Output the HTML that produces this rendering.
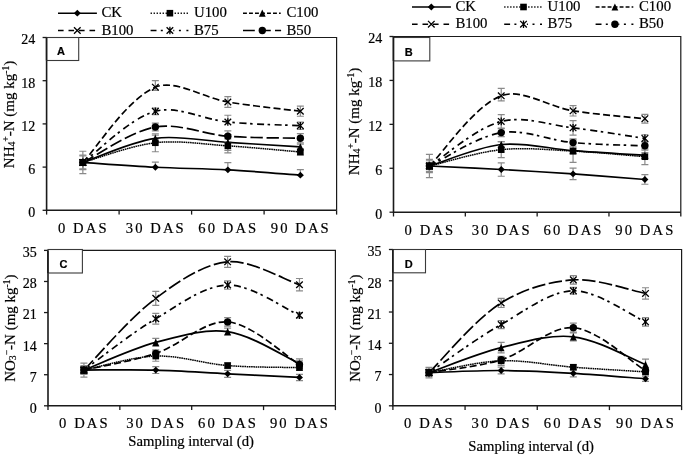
<!DOCTYPE html>
<html><head><meta charset="utf-8"><style>
html,body{margin:0;padding:0;background:#fff;width:685px;height:456px;overflow:hidden}
svg{display:block;will-change:transform}
text{fill:#000;stroke:#000;stroke-width:0.2px}
</style></head><body>
<svg width="685" height="456" viewBox="0 0 685 456">
<rect width="685" height="456" fill="#fff"/>
<g><path d="M46.6,37.5 H336.6 V210.3" stroke="#1a1a1a" stroke-width="1.2" fill="none"/>
<path d="M46.6,37.5 V210.3 H336.6" stroke="#1a1a1a" stroke-width="1.6" fill="none"/>
<path d="M42.6,210.3 H46.6" stroke="#1a1a1a" stroke-width="1.3"/>
<text x="35.3" y="217.2" text-anchor="end" font-size="14" font-family='"Liberation Serif", serif'>0</text>
<path d="M42.6,167.1 H46.6" stroke="#1a1a1a" stroke-width="1.3"/>
<text x="35.3" y="174" text-anchor="end" font-size="14" font-family='"Liberation Serif", serif'>6</text>
<path d="M42.6,123.9 H46.6" stroke="#1a1a1a" stroke-width="1.3"/>
<text x="35.3" y="130.8" text-anchor="end" font-size="14" font-family='"Liberation Serif", serif'>12</text>
<path d="M42.6,80.7 H46.6" stroke="#1a1a1a" stroke-width="1.3"/>
<text x="35.3" y="87.6" text-anchor="end" font-size="14" font-family='"Liberation Serif", serif'>18</text>
<path d="M42.6,37.5 H46.6" stroke="#1a1a1a" stroke-width="1.3"/>
<text x="35.3" y="44.4" text-anchor="end" font-size="14" font-family='"Liberation Serif", serif'>24</text>
<path d="M46.6,210.3 V214.6" stroke="#1a1a1a" stroke-width="1.3"/>
<path d="M119.1,210.3 V214.6" stroke="#1a1a1a" stroke-width="1.3"/>
<path d="M191.6,210.3 V214.6" stroke="#1a1a1a" stroke-width="1.3"/>
<path d="M264.1,210.3 V214.6" stroke="#1a1a1a" stroke-width="1.3"/>
<path d="M336.6,210.3 V214.6" stroke="#1a1a1a" stroke-width="1.3"/>
<text x="83.3" y="232.8" text-anchor="middle" font-size="14.6" letter-spacing="2.1" font-family='"Liberation Serif", serif'>0 DAS</text>
<text x="155.8" y="232.8" text-anchor="middle" font-size="14.6" letter-spacing="2.1" font-family='"Liberation Serif", serif'>30 DAS</text>
<text x="228.3" y="232.8" text-anchor="middle" font-size="14.6" letter-spacing="2.1" font-family='"Liberation Serif", serif'>60 DAS</text>
<text x="300.8" y="232.8" text-anchor="middle" font-size="14.6" letter-spacing="2.1" font-family='"Liberation Serif", serif'>90 DAS</text>
<path d="M82.85,162.42 C97.35,163.38 131.16,166.01 155.35,167.24 C179.5,168.48 203.71,168.52 227.85,169.84 C252.04,171.16 285.85,174.1 300.35,175.16" stroke="#000" stroke-width="1.7" fill="none"/>
<path d="M82.85,162.42 C97.35,158.49 130.77,145.57 155.35,142.76 C179.1,140.05 203.72,144.33 227.85,145.86 C252.05,147.4 285.85,150.76 300.35,151.98" stroke="#000" stroke-width="1.5" fill="none" stroke-dasharray="1.6 0.6"/>
<path d="M82.85,162.42 C97.35,157.6 130.57,141.72 155.35,138.3 C178.9,135.05 203.69,140.96 227.85,142.4 C252.02,143.84 285.85,146.03 300.35,146.94" stroke="#000" stroke-width="1.7" fill="none"/>
<path d="M82.85,162.42 C97.35,147.37 127.06,98.97 155.35,87.18 C175.39,78.83 203.53,97.98 227.85,102.01 C251.87,105.99 285.85,109.38 300.35,111.23" stroke="#000" stroke-width="1.7" fill="none" stroke-dasharray="7 3.3"/>
<path d="M82.85,162.42 C97.35,152.2 128.88,118.67 155.35,111.3 C177.22,105.21 203.57,119.62 227.85,122.03 C251.9,124.42 285.85,124.97 300.35,125.7" stroke="#000" stroke-width="1.7" fill="none" stroke-dasharray="7 3.5 2.5 4.5"/>
<path d="M82.85,162.42 C97.35,155.34 129.99,131.58 155.35,127 C178.32,122.84 203.59,134.32 227.85,136.21 C251.92,138.09 285.85,137.88 300.35,138.3" stroke="#000" stroke-width="1.7" fill="none" stroke-dasharray="12.3 3.8"/>
<path d="M82.85,159.54 V165.3 M79.35,159.54 H86.35 M79.35,165.3 H86.35" stroke="#8a8a8a" stroke-width="1.2" fill="none"/>
<path d="M155.35,162.06 V167.24 M151.85,162.06 H158.85" stroke="#8a8a8a" stroke-width="1.2" fill="none"/>
<path d="M227.85,162.64 V169.84 M224.35,162.64 H231.35" stroke="#8a8a8a" stroke-width="1.2" fill="none"/>
<path d="M300.35,169.69 V175.16 M296.85,169.69 H303.85" stroke="#8a8a8a" stroke-width="1.2" fill="none"/>
<path d="M82.85,155.94 V168.9 M79.35,155.94 H86.35 M79.35,168.9 H86.35" stroke="#8a8a8a" stroke-width="1.2" fill="none"/>
<path d="M155.35,133.76 V151.76 M151.85,133.76 H158.85 M151.85,151.76 H158.85" stroke="#8a8a8a" stroke-width="1.2" fill="none"/>
<path d="M227.85,138.8 V152.92 M224.35,138.8 H231.35 M224.35,152.92 H231.35" stroke="#8a8a8a" stroke-width="1.2" fill="none"/>
<path d="M300.35,148.74 V155.22 M296.85,148.74 H303.85 M296.85,155.22 H303.85" stroke="#8a8a8a" stroke-width="1.2" fill="none"/>
<path d="M82.85,155.22 V169.62 M79.35,155.22 H86.35 M79.35,169.62 H86.35" stroke="#8a8a8a" stroke-width="1.2" fill="none"/>
<path d="M155.35,135.06 V141.54 M151.85,135.06 H158.85 M151.85,141.54 H158.85" stroke="#8a8a8a" stroke-width="1.2" fill="none"/>
<path d="M227.85,134.48 V150.32 M224.35,134.48 H231.35 M224.35,150.32 H231.35" stroke="#8a8a8a" stroke-width="1.2" fill="none"/>
<path d="M300.35,144.06 V149.82 M296.85,144.06 H303.85 M296.85,149.82 H303.85" stroke="#8a8a8a" stroke-width="1.2" fill="none"/>
<path d="M82.85,151.26 V173.58 M79.35,151.26 H86.35 M79.35,173.58 H86.35" stroke="#8a8a8a" stroke-width="1.2" fill="none"/>
<path d="M155.35,80.56 V90.42 M151.85,80.56 H158.85 M151.85,90.42 H158.85" stroke="#8a8a8a" stroke-width="1.2" fill="none"/>
<path d="M227.85,96.61 V107.41 M224.35,96.61 H231.35 M224.35,107.41 H231.35" stroke="#8a8a8a" stroke-width="1.2" fill="none"/>
<path d="M300.35,106.19 V116.27 M296.85,106.19 H303.85 M296.85,116.27 H303.85" stroke="#8a8a8a" stroke-width="1.2" fill="none"/>
<path d="M82.85,159.54 V165.3 M79.35,159.54 H86.35 M79.35,165.3 H86.35" stroke="#8a8a8a" stroke-width="1.2" fill="none"/>
<path d="M155.35,108.06 V114.54 M151.85,108.06 H158.85 M151.85,114.54 H158.85" stroke="#8a8a8a" stroke-width="1.2" fill="none"/>
<path d="M227.85,115.26 V122.03 M224.35,115.26 H231.35" stroke="#8a8a8a" stroke-width="1.2" fill="none"/>
<path d="M300.35,122.1 V129.3 M296.85,122.1 H303.85 M296.85,129.3 H303.85" stroke="#8a8a8a" stroke-width="1.2" fill="none"/>
<path d="M82.85,159.54 V165.3 M79.35,159.54 H86.35 M79.35,165.3 H86.35" stroke="#8a8a8a" stroke-width="1.2" fill="none"/>
<path d="M155.35,123.04 V130.96 M151.85,123.04 H158.85 M151.85,130.96 H158.85" stroke="#8a8a8a" stroke-width="1.2" fill="none"/>
<path d="M227.85,130.81 V141.61 M224.35,130.81 H231.35 M224.35,141.61 H231.35" stroke="#8a8a8a" stroke-width="1.2" fill="none"/>
<path d="M300.35,133.69 V142.91 M296.85,133.69 H303.85 M296.85,142.91 H303.85" stroke="#8a8a8a" stroke-width="1.2" fill="none"/>
<path d="M82.85,159.02 L86.35,162.42 L82.85,165.82 L79.35,162.42 Z" fill="#000"/>
<path d="M155.35,163.84 L158.85,167.24 L155.35,170.64 L151.85,167.24 Z" fill="#000"/>
<path d="M227.85,166.44 L231.35,169.84 L227.85,173.24 L224.35,169.84 Z" fill="#000"/>
<path d="M300.35,171.76 L303.85,175.16 L300.35,178.56 L296.85,175.16 Z" fill="#000"/>
<rect x="79.55" y="159.12" width="6.6" height="6.6" fill="#000"/>
<rect x="152.05" y="139.46" width="6.6" height="6.6" fill="#000"/>
<rect x="224.55" y="142.56" width="6.6" height="6.6" fill="#000"/>
<rect x="297.05" y="148.68" width="6.6" height="6.6" fill="#000"/>
<path d="M82.85,158.82 L86.25,166.02 L79.45,166.02 Z" fill="#000"/>
<path d="M155.35,134.7 L158.75,141.9 L151.95,141.9 Z" fill="#000"/>
<path d="M227.85,138.8 L231.25,146 L224.45,146 Z" fill="#000"/>
<path d="M300.35,143.34 L303.75,150.54 L296.95,150.54 Z" fill="#000"/>
<path d="M79.55,159.12 L86.15,165.72 M79.55,165.72 L86.15,159.12" stroke="#000" stroke-width="1.3" fill="none"/>
<path d="M152.05,83.88 L158.65,90.48 M152.05,90.48 L158.65,83.88" stroke="#000" stroke-width="1.3" fill="none"/>
<path d="M224.55,98.71 L231.15,105.31 M224.55,105.31 L231.15,98.71" stroke="#000" stroke-width="1.3" fill="none"/>
<path d="M297.05,107.93 L303.65,114.53 M297.05,114.53 L303.65,107.93" stroke="#000" stroke-width="1.3" fill="none"/>
<path d="M79.55,159.12 L86.15,165.72 M79.55,165.72 L86.15,159.12 M82.85,158.62 L82.85,166.22" stroke="#000" stroke-width="1.3" fill="none"/>
<path d="M152.05,108 L158.65,114.6 M152.05,114.6 L158.65,108 M155.35,107.5 L155.35,115.1" stroke="#000" stroke-width="1.3" fill="none"/>
<path d="M224.55,118.73 L231.15,125.33 M224.55,125.33 L231.15,118.73 M227.85,118.23 L227.85,125.83" stroke="#000" stroke-width="1.3" fill="none"/>
<path d="M297.05,122.4 L303.65,129 M297.05,129 L303.65,122.4 M300.35,121.9 L300.35,129.5" stroke="#000" stroke-width="1.3" fill="none"/>
<circle cx="82.85" cy="162.42" r="3.7" fill="#000"/>
<circle cx="155.35" cy="127" r="3.7" fill="#000"/>
<circle cx="227.85" cy="136.21" r="3.7" fill="#000"/>
<circle cx="300.35" cy="138.3" r="3.7" fill="#000"/>
<rect x="46.6" y="37.5" width="32.1" height="23" fill="#fff" stroke="#3a3a3a" stroke-width="1.1"/>
<path d="M46.6,37.5 V60.5" stroke="#1a1a1a" stroke-width="1.6"/>
<text x="60.9" y="55.4" text-anchor="middle" font-size="11" font-weight="bold" font-family='"Liberation Sans", sans-serif'>A</text>
<text transform="translate(13.6,168.2) rotate(-90)" font-size="15" font-family='"Liberation Serif", serif'>NH<tspan font-size="9.6" dy="1.5">4</tspan><tspan font-size="9.6" dy="-6.5">+</tspan><tspan dy="5">-N (mg kg</tspan><tspan font-size="9.6" dy="-5">-1</tspan><tspan dy="5">)</tspan></text>
<path d="M58,13.2 H96.9" stroke="#000" stroke-width="1.5" fill="none"/>
<path d="M77.3,9.8 L80.8,13.2 L77.3,16.6 L73.8,13.2 Z" fill="#000"/>
<text x="101.4" y="17" font-size="14.8" font-family='"Liberation Serif", serif'>CK</text>
<path d="M150.6,13.2 H188" stroke="#000" stroke-width="1.5" fill="none" stroke-dasharray="1.3 1.7"/>
<rect x="166.6" y="9.9" width="6.6" height="6.6" fill="#000"/>
<text x="194" y="17" font-size="14.8" font-family='"Liberation Serif", serif'>U100</text>
<path d="M243,13.2 H280.7" stroke="#000" stroke-width="1.5" fill="none" stroke-dasharray="3.9 2.1"/>
<path d="M262.3,9.6 L265.7,16.8 L258.9,16.8 Z" fill="#000"/>
<text x="286.4" y="17" font-size="14.8" font-family='"Liberation Serif", serif'>C100</text>
<path d="M58,30.5 H95.1" stroke="#000" stroke-width="1.5" fill="none" stroke-dasharray="5.6 4.9"/>
<path d="M74,27.2 L80.6,33.8 M74,33.8 L80.6,27.2" stroke="#000" stroke-width="1.3" fill="none"/>
<text x="101.4" y="34.8" font-size="14.8" font-family='"Liberation Serif", serif'>B100</text>
<path d="M150.6,30.5 H156.5 M160.8,30.5 H162.8 M173.3,30.5 H174.3 M178.9,30.5 H180.9 M186.4,30.5 H188.4" stroke="#000" stroke-width="1.5" fill="none"/>
<path d="M166.6,27.2 L173.2,33.8 M166.6,33.8 L173.2,27.2 M169.9,26.7 L169.9,34.3" stroke="#000" stroke-width="1.3" fill="none"/>
<text x="194" y="34.8" font-size="14.8" font-family='"Liberation Serif", serif'>B75</text>
<path d="M243,30.5 H281.1" stroke="#000" stroke-width="1.5" fill="none" stroke-dasharray="11.8 4.2"/>
<circle cx="262.3" cy="30.5" r="3.7" fill="#000"/>
<text x="286.4" y="34.8" font-size="14.8" font-family='"Liberation Serif", serif'>B50</text></g>
<g><path d="M393.5,36.5 H680.8 V212.2" stroke="#1a1a1a" stroke-width="1.2" fill="none"/>
<path d="M393.5,36.5 V212.2 H680.8" stroke="#1a1a1a" stroke-width="1.6" fill="none"/>
<path d="M389.5,212.2 H393.5" stroke="#1a1a1a" stroke-width="1.3"/>
<text x="382.2" y="219.1" text-anchor="end" font-size="14" font-family='"Liberation Serif", serif'>0</text>
<path d="M389.5,168.27 H393.5" stroke="#1a1a1a" stroke-width="1.3"/>
<text x="382.2" y="175.17" text-anchor="end" font-size="14" font-family='"Liberation Serif", serif'>6</text>
<path d="M389.5,124.35 H393.5" stroke="#1a1a1a" stroke-width="1.3"/>
<text x="382.2" y="131.25" text-anchor="end" font-size="14" font-family='"Liberation Serif", serif'>12</text>
<path d="M389.5,80.43 H393.5" stroke="#1a1a1a" stroke-width="1.3"/>
<text x="382.2" y="87.33" text-anchor="end" font-size="14" font-family='"Liberation Serif", serif'>18</text>
<path d="M389.5,36.5 H393.5" stroke="#1a1a1a" stroke-width="1.3"/>
<text x="382.2" y="43.4" text-anchor="end" font-size="14" font-family='"Liberation Serif", serif'>24</text>
<path d="M393.5,212.2 V216.5" stroke="#1a1a1a" stroke-width="1.3"/>
<path d="M465.32,212.2 V216.5" stroke="#1a1a1a" stroke-width="1.3"/>
<path d="M537.15,212.2 V216.5" stroke="#1a1a1a" stroke-width="1.3"/>
<path d="M608.97,212.2 V216.5" stroke="#1a1a1a" stroke-width="1.3"/>
<path d="M680.8,212.2 V216.5" stroke="#1a1a1a" stroke-width="1.3"/>
<text x="429.86" y="234.7" text-anchor="middle" font-size="14.6" letter-spacing="2.1" font-family='"Liberation Serif", serif'>0 DAS</text>
<text x="501.69" y="234.7" text-anchor="middle" font-size="14.6" letter-spacing="2.1" font-family='"Liberation Serif", serif'>30 DAS</text>
<text x="573.51" y="234.7" text-anchor="middle" font-size="14.6" letter-spacing="2.1" font-family='"Liberation Serif", serif'>60 DAS</text>
<text x="645.34" y="234.7" text-anchor="middle" font-size="14.6" letter-spacing="2.1" font-family='"Liberation Serif", serif'>90 DAS</text>
<path d="M429.41,166.01 C443.78,166.71 477.3,168.2 501.24,169.52 C525.19,170.84 549.13,172.25 573.06,173.91 C597.02,175.57 630.52,178.36 644.89,179.48" stroke="#000" stroke-width="1.7" fill="none"/>
<path d="M429.41,166.01 C443.78,162.74 477,152.2 501.24,149.68 C524.88,147.22 549.16,149.9 573.06,151.07 C597.04,152.24 630.52,155.58 644.89,156.71" stroke="#000" stroke-width="1.5" fill="none" stroke-dasharray="1.6 0.6"/>
<path d="M429.41,166.01 C443.78,161.7 476.83,147.08 501.24,144.48 C524.71,141.98 549.1,148.87 573.06,150.7 C596.99,152.53 630.52,154.51 644.89,155.46" stroke="#000" stroke-width="1.7" fill="none"/>
<path d="M429.41,166.01 C443.78,151.96 473.57,106.43 501.24,95.8 C521.45,88.03 548.94,106.96 573.06,110.81 C596.82,114.6 630.52,117.13 644.89,118.71" stroke="#000" stroke-width="1.7" fill="none" stroke-dasharray="7 3.3"/>
<path d="M429.41,166.01 C443.78,157.09 475.4,128.28 501.24,121.42 C523.28,115.57 549.2,125.04 573.06,127.86 C597.08,130.7 630.52,136.3 644.89,138.41" stroke="#000" stroke-width="1.7" fill="none" stroke-dasharray="7 3.5 2.5 4.5"/>
<path d="M429.41,166.01 C443.78,159.33 476.24,136.7 501.24,132.62 C524.12,128.89 549.02,140.37 573.06,142.58 C596.9,144.77 630.52,145.16 644.89,145.8" stroke="#000" stroke-width="1.7" fill="none" stroke-dasharray="7 3.5 2.5 4.5"/>
<path d="M429.41,163.08 V168.93 M425.91,163.08 H432.91 M425.91,168.93 H432.91" stroke="#8a8a8a" stroke-width="1.2" fill="none"/>
<path d="M501.24,162.78 V176.25 M497.74,162.78 H504.74 M497.74,176.25 H504.74" stroke="#8a8a8a" stroke-width="1.2" fill="none"/>
<path d="M573.06,168.2 V179.62 M569.56,168.2 H576.56 M569.56,179.62 H576.56" stroke="#8a8a8a" stroke-width="1.2" fill="none"/>
<path d="M644.89,174.72 V184.23 M641.39,174.72 H648.39 M641.39,184.23 H648.39" stroke="#8a8a8a" stroke-width="1.2" fill="none"/>
<path d="M429.41,159.42 V172.59 M425.91,159.42 H432.91 M425.91,172.59 H432.91" stroke="#8a8a8a" stroke-width="1.2" fill="none"/>
<path d="M501.24,141.77 V157.59 M497.74,141.77 H504.74 M497.74,157.59 H504.74" stroke="#8a8a8a" stroke-width="1.2" fill="none"/>
<path d="M573.06,139.8 V162.35 M569.56,139.8 H576.56 M569.56,162.35 H576.56" stroke="#8a8a8a" stroke-width="1.2" fill="none"/>
<path d="M644.89,148.8 V164.61 M641.39,148.8 H648.39 M641.39,164.61 H648.39" stroke="#8a8a8a" stroke-width="1.2" fill="none"/>
<path d="M429.41,160.73 V171.28 M425.91,160.73 H432.91 M425.91,171.28 H432.91" stroke="#8a8a8a" stroke-width="1.2" fill="none"/>
<path d="M501.24,141.55 V147.41 M497.74,141.55 H504.74 M497.74,147.41 H504.74" stroke="#8a8a8a" stroke-width="1.2" fill="none"/>
<path d="M573.06,147.78 V153.63 M569.56,147.78 H576.56 M569.56,153.63 H576.56" stroke="#8a8a8a" stroke-width="1.2" fill="none"/>
<path d="M644.89,152.54 V158.39 M641.39,152.54 H648.39 M641.39,158.39 H648.39" stroke="#8a8a8a" stroke-width="1.2" fill="none"/>
<path d="M429.41,154.44 V177.57 M425.91,154.44 H432.91 M425.91,177.57 H432.91" stroke="#8a8a8a" stroke-width="1.2" fill="none"/>
<path d="M501.24,88.33 V100.78 M497.74,88.33 H504.74 M497.74,100.78 H504.74" stroke="#8a8a8a" stroke-width="1.2" fill="none"/>
<path d="M573.06,105.61 V116 M569.56,105.61 H576.56 M569.56,116 H576.56" stroke="#8a8a8a" stroke-width="1.2" fill="none"/>
<path d="M644.89,114.32 V123.11 M641.39,114.32 H648.39 M641.39,123.11 H648.39" stroke="#8a8a8a" stroke-width="1.2" fill="none"/>
<path d="M429.41,163.08 V168.93 M425.91,163.08 H432.91 M425.91,168.93 H432.91" stroke="#8a8a8a" stroke-width="1.2" fill="none"/>
<path d="M501.24,114.69 V128.16 M497.74,114.69 H504.74 M497.74,128.16 H504.74" stroke="#8a8a8a" stroke-width="1.2" fill="none"/>
<path d="M573.06,120.69 V135.04 M569.56,120.69 H576.56 M569.56,135.04 H576.56" stroke="#8a8a8a" stroke-width="1.2" fill="none"/>
<path d="M644.89,134.75 V142.07 M641.39,134.75 H648.39 M641.39,142.07 H648.39" stroke="#8a8a8a" stroke-width="1.2" fill="none"/>
<path d="M429.41,163.08 V168.93 M425.91,163.08 H432.91 M425.91,168.93 H432.91" stroke="#8a8a8a" stroke-width="1.2" fill="none"/>
<path d="M501.24,128.6 V136.65 M497.74,128.6 H504.74 M497.74,136.65 H504.74" stroke="#8a8a8a" stroke-width="1.2" fill="none"/>
<path d="M573.06,138.92 V146.24 M569.56,138.92 H576.56 M569.56,146.24 H576.56" stroke="#8a8a8a" stroke-width="1.2" fill="none"/>
<path d="M644.89,141.48 V150.12 M641.39,141.48 H648.39 M641.39,150.12 H648.39" stroke="#8a8a8a" stroke-width="1.2" fill="none"/>
<path d="M429.41,162.61 L432.91,166.01 L429.41,169.41 L425.91,166.01 Z" fill="#000"/>
<path d="M501.24,166.12 L504.74,169.52 L501.24,172.92 L497.74,169.52 Z" fill="#000"/>
<path d="M573.06,170.51 L576.56,173.91 L573.06,177.31 L569.56,173.91 Z" fill="#000"/>
<path d="M644.89,176.08 L648.39,179.48 L644.89,182.88 L641.39,179.48 Z" fill="#000"/>
<rect x="426.11" y="162.71" width="6.6" height="6.6" fill="#000"/>
<rect x="497.94" y="146.38" width="6.6" height="6.6" fill="#000"/>
<rect x="569.76" y="147.77" width="6.6" height="6.6" fill="#000"/>
<rect x="641.59" y="153.41" width="6.6" height="6.6" fill="#000"/>
<path d="M429.41,162.41 L432.81,169.61 L426.01,169.61 Z" fill="#000"/>
<path d="M501.24,140.88 L504.64,148.08 L497.84,148.08 Z" fill="#000"/>
<path d="M573.06,147.1 L576.46,154.3 L569.66,154.3 Z" fill="#000"/>
<path d="M644.89,151.86 L648.29,159.06 L641.49,159.06 Z" fill="#000"/>
<path d="M426.11,162.71 L432.71,169.31 M426.11,169.31 L432.71,162.71" stroke="#000" stroke-width="1.3" fill="none"/>
<path d="M497.94,92.5 L504.54,99.1 M497.94,99.1 L504.54,92.5" stroke="#000" stroke-width="1.3" fill="none"/>
<path d="M569.76,107.51 L576.36,114.11 M569.76,114.11 L576.36,107.51" stroke="#000" stroke-width="1.3" fill="none"/>
<path d="M641.59,115.41 L648.19,122.01 M641.59,122.01 L648.19,115.41" stroke="#000" stroke-width="1.3" fill="none"/>
<path d="M426.11,162.71 L432.71,169.31 M426.11,169.31 L432.71,162.71 M429.41,162.21 L429.41,169.81" stroke="#000" stroke-width="1.3" fill="none"/>
<path d="M497.94,118.12 L504.54,124.72 M497.94,124.72 L504.54,118.12 M501.24,117.62 L501.24,125.22" stroke="#000" stroke-width="1.3" fill="none"/>
<path d="M569.76,124.56 L576.36,131.16 M569.76,131.16 L576.36,124.56 M573.06,124.06 L573.06,131.66" stroke="#000" stroke-width="1.3" fill="none"/>
<path d="M641.59,135.11 L648.19,141.71 M641.59,141.71 L648.19,135.11 M644.89,134.61 L644.89,142.21" stroke="#000" stroke-width="1.3" fill="none"/>
<circle cx="429.41" cy="166.01" r="3.7" fill="#000"/>
<circle cx="501.24" cy="132.62" r="3.7" fill="#000"/>
<circle cx="573.06" cy="142.58" r="3.7" fill="#000"/>
<circle cx="644.89" cy="145.8" r="3.7" fill="#000"/>
<rect x="393.5" y="37.5" width="36.3" height="23.4" fill="#fff" stroke="#3a3a3a" stroke-width="1.1"/>
<path d="M393.5,36.5 V60.9" stroke="#1a1a1a" stroke-width="1.6"/>
<text x="408.8" y="55.7" text-anchor="middle" font-size="11" font-weight="bold" font-family='"Liberation Sans", sans-serif'>B</text>
<text transform="translate(358.8,175.2) rotate(-90)" font-size="15" font-family='"Liberation Serif", serif'>NH<tspan font-size="9.6" dy="1.5">4</tspan><tspan font-size="9.6" dy="-6.5">+</tspan><tspan dy="5">-N (mg kg</tspan><tspan font-size="9.6" dy="-5">-1</tspan><tspan dy="5">)</tspan></text>
<path d="M412,7 H450.9" stroke="#000" stroke-width="1.5" fill="none"/>
<path d="M431.3,3.6 L434.8,7 L431.3,10.4 L427.8,7 Z" fill="#000"/>
<text x="455.4" y="10.8" font-size="14.8" font-family='"Liberation Serif", serif'>CK</text>
<path d="M504.2,7 H541.6" stroke="#000" stroke-width="1.5" fill="none" stroke-dasharray="1.3 1.7"/>
<rect x="520.2" y="3.7" width="6.6" height="6.6" fill="#000"/>
<text x="547.6" y="10.8" font-size="14.8" font-family='"Liberation Serif", serif'>U100</text>
<path d="M595.6,7 H633.3" stroke="#000" stroke-width="1.5" fill="none" stroke-dasharray="3.9 2.1"/>
<path d="M614.9,3.4 L618.3,10.6 L611.5,10.6 Z" fill="#000"/>
<text x="639" y="10.8" font-size="14.8" font-family='"Liberation Serif", serif'>C100</text>
<path d="M412,24.2 H449.1" stroke="#000" stroke-width="1.5" fill="none" stroke-dasharray="5.6 4.9"/>
<path d="M428,20.9 L434.6,27.5 M428,27.5 L434.6,20.9" stroke="#000" stroke-width="1.3" fill="none"/>
<text x="455.4" y="28" font-size="14.8" font-family='"Liberation Serif", serif'>B100</text>
<path d="M504.2,24.2 H510.1 M514.4,24.2 H516.4 M526.9,24.2 H527.9 M532.5,24.2 H534.5 M540,24.2 H542" stroke="#000" stroke-width="1.5" fill="none"/>
<path d="M520.2,20.9 L526.8,27.5 M520.2,27.5 L526.8,20.9 M523.5,20.4 L523.5,28" stroke="#000" stroke-width="1.3" fill="none"/>
<text x="547.6" y="28" font-size="14.8" font-family='"Liberation Serif", serif'>B75</text>
<path d="M595.6,24.2 H601.5 M605.8,24.2 H607.8 M618.3,24.2 H619.3 M623.9,24.2 H625.9 M631.4,24.2 H633.4" stroke="#000" stroke-width="1.5" fill="none"/>
<circle cx="614.9" cy="24.2" r="3.7" fill="#000"/>
<text x="639" y="28" font-size="14.8" font-family='"Liberation Serif", serif'>B50</text></g>
<g><path d="M48,250.4 H335.4 V405.8" stroke="#1a1a1a" stroke-width="1.2" fill="none"/>
<path d="M48,250.4 V405.8 H335.4" stroke="#1a1a1a" stroke-width="1.6" fill="none"/>
<path d="M44,405.8 H48" stroke="#1a1a1a" stroke-width="1.3"/>
<text x="36.7" y="412.7" text-anchor="end" font-size="14" font-family='"Liberation Serif", serif'>0</text>
<path d="M44,374.72 H48" stroke="#1a1a1a" stroke-width="1.3"/>
<text x="36.7" y="381.62" text-anchor="end" font-size="14" font-family='"Liberation Serif", serif'>7</text>
<path d="M44,343.64 H48" stroke="#1a1a1a" stroke-width="1.3"/>
<text x="36.7" y="350.54" text-anchor="end" font-size="14" font-family='"Liberation Serif", serif'>14</text>
<path d="M44,312.56 H48" stroke="#1a1a1a" stroke-width="1.3"/>
<text x="36.7" y="319.46" text-anchor="end" font-size="14" font-family='"Liberation Serif", serif'>21</text>
<path d="M44,281.48 H48" stroke="#1a1a1a" stroke-width="1.3"/>
<text x="36.7" y="288.38" text-anchor="end" font-size="14" font-family='"Liberation Serif", serif'>28</text>
<path d="M44,250.4 H48" stroke="#1a1a1a" stroke-width="1.3"/>
<text x="36.7" y="257.3" text-anchor="end" font-size="14" font-family='"Liberation Serif", serif'>35</text>
<path d="M48,405.8 V410.1" stroke="#1a1a1a" stroke-width="1.3"/>
<path d="M119.85,405.8 V410.1" stroke="#1a1a1a" stroke-width="1.3"/>
<path d="M191.7,405.8 V410.1" stroke="#1a1a1a" stroke-width="1.3"/>
<path d="M263.55,405.8 V410.1" stroke="#1a1a1a" stroke-width="1.3"/>
<path d="M335.4,405.8 V410.1" stroke="#1a1a1a" stroke-width="1.3"/>
<text x="84.38" y="428.3" text-anchor="middle" font-size="14.6" letter-spacing="2.1" font-family='"Liberation Serif", serif'>0 DAS</text>
<text x="156.22" y="428.3" text-anchor="middle" font-size="14.6" letter-spacing="2.1" font-family='"Liberation Serif", serif'>30 DAS</text>
<text x="228.07" y="428.3" text-anchor="middle" font-size="14.6" letter-spacing="2.1" font-family='"Liberation Serif", serif'>60 DAS</text>
<text x="299.92" y="428.3" text-anchor="middle" font-size="14.6" letter-spacing="2.1" font-family='"Liberation Serif", serif'>90 DAS</text>
<path d="M83.92,370.06 C98.29,370.06 131.84,369.43 155.77,370.06 C179.74,370.69 203.67,372.6 227.62,373.83 C251.57,375.07 285.1,376.74 299.47,377.47" stroke="#000" stroke-width="1.7" fill="none"/>
<path d="M83.92,370.06 C98.29,367.26 131.71,356.82 155.77,356.07 C179.61,355.33 203.58,363.64 227.62,365.57 C251.48,367.49 285.1,367.21 299.47,367.62" stroke="#000" stroke-width="1.5" fill="none" stroke-dasharray="1.6 0.6"/>
<path d="M83.92,370.06 C98.29,364.53 131.13,349.03 155.77,342.44 C179.03,336.22 204.62,328.26 227.62,331.65 C252.52,335.32 285.1,357.23 299.47,363.62" stroke="#000" stroke-width="1.7" fill="none"/>
<path d="M83.92,370.06 C98.29,355.72 129.08,318.46 155.77,298.35 C176.98,282.38 202.88,264.16 227.62,261.81 C250.78,259.61 285.1,280.14 299.47,284.72" stroke="#000" stroke-width="1.7" fill="none" stroke-dasharray="13.4 3.5"/>
<path d="M83.92,370.06 C98.29,359.8 130.55,333.7 155.77,318.78 C178.45,305.36 203.46,285.63 227.62,285.03 C251.36,284.45 285.1,309.19 299.47,315.22" stroke="#000" stroke-width="1.7" fill="none" stroke-dasharray="7 3.5 2.5 4.5"/>
<path d="M83.92,370.06 C98.29,366.73 132.57,361.19 155.77,353.41 C180.47,345.13 204.43,320.09 227.62,321.88 C252.33,323.79 285.1,355.98 299.47,364.51" stroke="#000" stroke-width="1.7" fill="none" stroke-dasharray="7 3.3"/>
<path d="M83.92,367.39 V372.72 M80.42,367.39 H87.42 M80.42,372.72 H87.42" stroke="#8a8a8a" stroke-width="1.2" fill="none"/>
<path d="M155.77,366.64 V373.48 M152.27,366.64 H159.27 M152.27,373.48 H159.27" stroke="#8a8a8a" stroke-width="1.2" fill="none"/>
<path d="M227.62,370.28 V377.38 M224.12,370.28 H231.12 M224.12,377.38 H231.12" stroke="#8a8a8a" stroke-width="1.2" fill="none"/>
<path d="M299.47,374.36 V380.58 M295.97,374.36 H302.97 M295.97,380.58 H302.97" stroke="#8a8a8a" stroke-width="1.2" fill="none"/>
<path d="M83.92,363.04 V377.07 M80.42,363.04 H87.42 M80.42,377.07 H87.42" stroke="#8a8a8a" stroke-width="1.2" fill="none"/>
<path d="M155.77,350.88 V361.27 M152.27,350.88 H159.27 M152.27,361.27 H159.27" stroke="#8a8a8a" stroke-width="1.2" fill="none"/>
<path d="M227.62,362.91 V368.24 M224.12,362.91 H231.12 M224.12,368.24 H231.12" stroke="#8a8a8a" stroke-width="1.2" fill="none"/>
<path d="M299.47,364.95 V370.28 M295.97,364.95 H302.97 M295.97,370.28 H302.97" stroke="#8a8a8a" stroke-width="1.2" fill="none"/>
<path d="M83.92,365.62 V374.5 M80.42,365.62 H87.42 M80.42,374.5 H87.42" stroke="#8a8a8a" stroke-width="1.2" fill="none"/>
<path d="M155.77,338.45 V346.44 M152.27,338.45 H159.27 M152.27,346.44 H159.27" stroke="#8a8a8a" stroke-width="1.2" fill="none"/>
<path d="M227.62,328.1 V335.2 M224.12,328.1 H231.12 M224.12,335.2 H231.12" stroke="#8a8a8a" stroke-width="1.2" fill="none"/>
<path d="M299.47,358.96 V368.28 M295.97,358.96 H302.97 M295.97,368.28 H302.97" stroke="#8a8a8a" stroke-width="1.2" fill="none"/>
<path d="M83.92,366.51 V373.61 M80.42,366.51 H87.42 M80.42,373.61 H87.42" stroke="#8a8a8a" stroke-width="1.2" fill="none"/>
<path d="M155.77,291.34 V305.37 M152.27,291.34 H159.27 M152.27,305.37 H159.27" stroke="#8a8a8a" stroke-width="1.2" fill="none"/>
<path d="M227.62,256.31 V267.32 M224.12,256.31 H231.12 M224.12,267.32 H231.12" stroke="#8a8a8a" stroke-width="1.2" fill="none"/>
<path d="M299.47,278.51 V290.94 M295.97,278.51 H302.97 M295.97,290.94 H302.97" stroke="#8a8a8a" stroke-width="1.2" fill="none"/>
<path d="M83.92,367.39 V372.72 M80.42,367.39 H87.42 M80.42,372.72 H87.42" stroke="#8a8a8a" stroke-width="1.2" fill="none"/>
<path d="M155.77,313.45 V324.1 M152.27,313.45 H159.27 M152.27,324.1 H159.27" stroke="#8a8a8a" stroke-width="1.2" fill="none"/>
<path d="M227.62,280.81 V289.25 M224.12,280.81 H231.12 M224.12,289.25 H231.12" stroke="#8a8a8a" stroke-width="1.2" fill="none"/>
<path d="M299.47,312.56 V317.89 M295.97,312.56 H302.97 M295.97,317.89 H302.97" stroke="#8a8a8a" stroke-width="1.2" fill="none"/>
<path d="M83.92,366.51 V373.61 M80.42,366.51 H87.42 M80.42,373.61 H87.42" stroke="#8a8a8a" stroke-width="1.2" fill="none"/>
<path d="M155.77,349.86 V356.96 M152.27,349.86 H159.27 M152.27,356.96 H159.27" stroke="#8a8a8a" stroke-width="1.2" fill="none"/>
<path d="M227.62,317.67 V326.1 M224.12,317.67 H231.12 M224.12,326.1 H231.12" stroke="#8a8a8a" stroke-width="1.2" fill="none"/>
<path d="M299.47,360.96 V368.06 M295.97,360.96 H302.97 M295.97,368.06 H302.97" stroke="#8a8a8a" stroke-width="1.2" fill="none"/>
<path d="M83.92,366.66 L87.42,370.06 L83.92,373.46 L80.42,370.06 Z" fill="#000"/>
<path d="M155.77,366.66 L159.27,370.06 L155.77,373.46 L152.27,370.06 Z" fill="#000"/>
<path d="M227.62,370.43 L231.12,373.83 L227.62,377.23 L224.12,373.83 Z" fill="#000"/>
<path d="M299.47,374.07 L302.97,377.47 L299.47,380.87 L295.97,377.47 Z" fill="#000"/>
<rect x="80.62" y="366.76" width="6.6" height="6.6" fill="#000"/>
<rect x="152.47" y="352.77" width="6.6" height="6.6" fill="#000"/>
<rect x="224.32" y="362.27" width="6.6" height="6.6" fill="#000"/>
<rect x="296.17" y="364.32" width="6.6" height="6.6" fill="#000"/>
<path d="M83.92,366.46 L87.33,373.66 L80.52,373.66 Z" fill="#000"/>
<path d="M155.77,338.84 L159.17,346.04 L152.37,346.04 Z" fill="#000"/>
<path d="M227.62,328.05 L231.03,335.25 L224.22,335.25 Z" fill="#000"/>
<path d="M299.47,360.02 L302.87,367.22 L296.07,367.22 Z" fill="#000"/>
<path d="M80.62,366.76 L87.22,373.36 M80.62,373.36 L87.22,366.76" stroke="#000" stroke-width="1.3" fill="none"/>
<path d="M152.47,295.05 L159.07,301.65 M152.47,301.65 L159.07,295.05" stroke="#000" stroke-width="1.3" fill="none"/>
<path d="M224.32,258.51 L230.93,265.11 M224.32,265.11 L230.93,258.51" stroke="#000" stroke-width="1.3" fill="none"/>
<path d="M296.17,281.42 L302.77,288.02 M296.17,288.02 L302.77,281.42" stroke="#000" stroke-width="1.3" fill="none"/>
<path d="M80.62,366.76 L87.22,373.36 M80.62,373.36 L87.22,366.76 M83.92,366.26 L83.92,373.86" stroke="#000" stroke-width="1.3" fill="none"/>
<path d="M152.47,315.48 L159.07,322.08 M152.47,322.08 L159.07,315.48 M155.77,314.98 L155.77,322.58" stroke="#000" stroke-width="1.3" fill="none"/>
<path d="M224.32,281.73 L230.93,288.33 M224.32,288.33 L230.93,281.73 M227.62,281.23 L227.62,288.83" stroke="#000" stroke-width="1.3" fill="none"/>
<path d="M296.17,311.92 L302.77,318.52 M296.17,318.52 L302.77,311.92 M299.47,311.42 L299.47,319.02" stroke="#000" stroke-width="1.3" fill="none"/>
<circle cx="83.92" cy="370.06" r="3.7" fill="#000"/>
<circle cx="155.77" cy="353.41" r="3.7" fill="#000"/>
<circle cx="227.62" cy="321.88" r="3.7" fill="#000"/>
<circle cx="299.47" cy="364.51" r="3.7" fill="#000"/>
<rect x="48" y="249.5" width="34.4" height="23.5" fill="#fff" stroke="#3a3a3a" stroke-width="1.1"/>
<path d="M48,250.4 V273" stroke="#1a1a1a" stroke-width="1.6"/>
<text x="63.6" y="267.7" text-anchor="middle" font-size="11" font-weight="bold" font-family='"Liberation Sans", sans-serif'>C</text>
<text transform="translate(14.5,381.8) rotate(-90)" font-size="15" font-family='"Liberation Serif", serif'>NO<tspan font-size="9.6" dy="1.5">3</tspan><tspan font-size="9.6" dy="-6.5">&#8722;</tspan><tspan dy="5">-N (mg kg</tspan><tspan font-size="9.6" dy="-5">-1</tspan><tspan dy="5">)</tspan></text>
<text x="128.3" y="446" font-size="14.7" font-family='"Liberation Serif", serif'>Sampling interval (d)</text></g>
<g><path d="M392.9,249.5 H681.6 V405.8" stroke="#1a1a1a" stroke-width="1.2" fill="none"/>
<path d="M392.9,249.5 V405.8 H681.6" stroke="#1a1a1a" stroke-width="1.6" fill="none"/>
<path d="M388.9,405.8 H392.9" stroke="#1a1a1a" stroke-width="1.3"/>
<text x="381.6" y="412.7" text-anchor="end" font-size="14" font-family='"Liberation Serif", serif'>0</text>
<path d="M388.9,374.54 H392.9" stroke="#1a1a1a" stroke-width="1.3"/>
<text x="381.6" y="381.44" text-anchor="end" font-size="14" font-family='"Liberation Serif", serif'>7</text>
<path d="M388.9,343.28 H392.9" stroke="#1a1a1a" stroke-width="1.3"/>
<text x="381.6" y="350.18" text-anchor="end" font-size="14" font-family='"Liberation Serif", serif'>14</text>
<path d="M388.9,312.02 H392.9" stroke="#1a1a1a" stroke-width="1.3"/>
<text x="381.6" y="318.92" text-anchor="end" font-size="14" font-family='"Liberation Serif", serif'>21</text>
<path d="M388.9,280.76 H392.9" stroke="#1a1a1a" stroke-width="1.3"/>
<text x="381.6" y="287.66" text-anchor="end" font-size="14" font-family='"Liberation Serif", serif'>28</text>
<path d="M388.9,249.5 H392.9" stroke="#1a1a1a" stroke-width="1.3"/>
<text x="381.6" y="256.4" text-anchor="end" font-size="14" font-family='"Liberation Serif", serif'>35</text>
<path d="M392.9,405.8 V410.1" stroke="#1a1a1a" stroke-width="1.3"/>
<path d="M465.07,405.8 V410.1" stroke="#1a1a1a" stroke-width="1.3"/>
<path d="M537.25,405.8 V410.1" stroke="#1a1a1a" stroke-width="1.3"/>
<path d="M609.42,405.8 V410.1" stroke="#1a1a1a" stroke-width="1.3"/>
<path d="M681.6,405.8 V410.1" stroke="#1a1a1a" stroke-width="1.3"/>
<text x="429.44" y="428.3" text-anchor="middle" font-size="14.6" letter-spacing="2.1" font-family='"Liberation Serif", serif'>0 DAS</text>
<text x="501.61" y="428.3" text-anchor="middle" font-size="14.6" letter-spacing="2.1" font-family='"Liberation Serif", serif'>30 DAS</text>
<text x="573.79" y="428.3" text-anchor="middle" font-size="14.6" letter-spacing="2.1" font-family='"Liberation Serif", serif'>60 DAS</text>
<text x="645.96" y="428.3" text-anchor="middle" font-size="14.6" letter-spacing="2.1" font-family='"Liberation Serif", serif'>90 DAS</text>
<path d="M428.99,372.62 C443.42,372.2 477.11,370.41 501.16,370.52 C525.22,370.63 549.31,371.91 573.34,373.29 C597.42,374.67 631.08,377.68 645.51,378.78" stroke="#000" stroke-width="1.7" fill="none"/>
<path d="M428.99,372.62 C443.42,370.26 476.99,361.74 501.16,360.83 C525.11,359.93 549.26,365.38 573.34,367.22 C597.37,369.05 631.08,370.93 645.51,371.86" stroke="#000" stroke-width="1.5" fill="none" stroke-dasharray="1.6 0.6"/>
<path d="M428.99,372.62 C443.42,367.62 476.56,353.72 501.16,347.61 C524.67,341.78 549.97,334.07 573.34,336.8 C598.09,339.7 631.08,358.95 645.51,364.49" stroke="#000" stroke-width="1.7" fill="none"/>
<path d="M428.99,372.62 C443.42,358.68 473.75,320.53 501.16,302.91 C521.86,289.61 548.9,281.48 573.34,279.87 C597.02,278.31 631.08,290.69 645.51,293.4" stroke="#000" stroke-width="1.7" fill="none" stroke-dasharray="13.4 3.5"/>
<path d="M428.99,372.62 C443.42,363 476.08,338.74 501.16,324.52 C524.2,311.47 549.11,291.26 573.34,290.81 C597.23,290.36 631.08,315.64 645.51,321.84" stroke="#000" stroke-width="1.7" fill="none" stroke-dasharray="7 3.5 2.5 4.5"/>
<path d="M428.99,372.62 C443.42,370.06 478.01,367.02 501.16,359.8 C526.12,352.03 550.02,325.89 573.34,327.65 C598.14,329.52 631.08,362.09 645.51,370.7" stroke="#000" stroke-width="1.7" fill="none" stroke-dasharray="7 3.3"/>
<path d="M428.99,369.94 V375.3 M425.49,369.94 H432.49 M425.49,375.3 H432.49" stroke="#8a8a8a" stroke-width="1.2" fill="none"/>
<path d="M501.16,367.22 V373.83 M497.66,367.22 H504.66 M497.66,373.83 H504.66" stroke="#8a8a8a" stroke-width="1.2" fill="none"/>
<path d="M573.34,369.72 V376.86 M569.84,369.72 H576.84 M569.84,376.86 H576.84" stroke="#8a8a8a" stroke-width="1.2" fill="none"/>
<path d="M645.51,376.1 V381.46 M642.01,376.1 H649.01 M642.01,381.46 H649.01" stroke="#8a8a8a" stroke-width="1.2" fill="none"/>
<path d="M428.99,367.39 V377.84 M425.49,367.39 H432.49 M425.49,377.84 H432.49" stroke="#8a8a8a" stroke-width="1.2" fill="none"/>
<path d="M501.16,356.36 V365.3 M497.66,356.36 H504.66 M497.66,365.3 H504.66" stroke="#8a8a8a" stroke-width="1.2" fill="none"/>
<path d="M573.34,364.54 V369.9 M569.84,364.54 H576.84 M569.84,369.9 H576.84" stroke="#8a8a8a" stroke-width="1.2" fill="none"/>
<path d="M645.51,369.18 V374.54 M642.01,369.18 H649.01 M642.01,374.54 H649.01" stroke="#8a8a8a" stroke-width="1.2" fill="none"/>
<path d="M428.99,369.05 V376.19 M425.49,369.05 H432.49 M425.49,376.19 H432.49" stroke="#8a8a8a" stroke-width="1.2" fill="none"/>
<path d="M501.16,342.43 V352.79 M497.66,342.43 H504.66 M497.66,352.79 H504.66" stroke="#8a8a8a" stroke-width="1.2" fill="none"/>
<path d="M573.34,332.79 V340.82 M569.84,332.79 H576.84 M569.84,340.82 H576.84" stroke="#8a8a8a" stroke-width="1.2" fill="none"/>
<path d="M645.51,359.13 V369.85 M642.01,359.13 H649.01 M642.01,369.85 H649.01" stroke="#8a8a8a" stroke-width="1.2" fill="none"/>
<path d="M428.99,369.94 V375.3 M425.49,369.94 H432.49 M425.49,375.3 H432.49" stroke="#8a8a8a" stroke-width="1.2" fill="none"/>
<path d="M501.16,298.31 V307.51 M497.66,298.31 H504.66 M497.66,307.51 H504.66" stroke="#8a8a8a" stroke-width="1.2" fill="none"/>
<path d="M573.34,275.54 V284.2 M569.84,275.54 H576.84 M569.84,284.2 H576.84" stroke="#8a8a8a" stroke-width="1.2" fill="none"/>
<path d="M645.51,287.73 V299.07 M642.01,287.73 H649.01 M642.01,299.07 H649.01" stroke="#8a8a8a" stroke-width="1.2" fill="none"/>
<path d="M428.99,369.94 V375.3 M425.49,369.94 H432.49 M425.49,375.3 H432.49" stroke="#8a8a8a" stroke-width="1.2" fill="none"/>
<path d="M501.16,320.5 V328.54 M497.66,320.5 H504.66 M497.66,328.54 H504.66" stroke="#8a8a8a" stroke-width="1.2" fill="none"/>
<path d="M573.34,287.41 V294.2 M569.84,287.41 H576.84 M569.84,294.2 H576.84" stroke="#8a8a8a" stroke-width="1.2" fill="none"/>
<path d="M645.51,317.6 V326.09 M642.01,317.6 H649.01 M642.01,326.09 H649.01" stroke="#8a8a8a" stroke-width="1.2" fill="none"/>
<path d="M428.99,369.94 V375.3 M425.49,369.94 H432.49 M425.49,375.3 H432.49" stroke="#8a8a8a" stroke-width="1.2" fill="none"/>
<path d="M501.16,357.12 V362.48 M497.66,357.12 H504.66 M497.66,362.48 H504.66" stroke="#8a8a8a" stroke-width="1.2" fill="none"/>
<path d="M573.34,323.18 V332.12 M569.84,323.18 H576.84 M569.84,332.12 H576.84" stroke="#8a8a8a" stroke-width="1.2" fill="none"/>
<path d="M645.51,368.02 V373.38 M642.01,368.02 H649.01 M642.01,373.38 H649.01" stroke="#8a8a8a" stroke-width="1.2" fill="none"/>
<path d="M428.99,369.22 L432.49,372.62 L428.99,376.02 L425.49,372.62 Z" fill="#000"/>
<path d="M501.16,367.12 L504.66,370.52 L501.16,373.92 L497.66,370.52 Z" fill="#000"/>
<path d="M573.34,369.89 L576.84,373.29 L573.34,376.69 L569.84,373.29 Z" fill="#000"/>
<path d="M645.51,375.38 L649.01,378.78 L645.51,382.18 L642.01,378.78 Z" fill="#000"/>
<rect x="425.69" y="369.32" width="6.6" height="6.6" fill="#000"/>
<rect x="497.86" y="357.53" width="6.6" height="6.6" fill="#000"/>
<rect x="570.04" y="363.92" width="6.6" height="6.6" fill="#000"/>
<rect x="642.21" y="368.56" width="6.6" height="6.6" fill="#000"/>
<path d="M428.99,369.02 L432.39,376.22 L425.59,376.22 Z" fill="#000"/>
<path d="M501.16,344.01 L504.56,351.21 L497.76,351.21 Z" fill="#000"/>
<path d="M573.34,333.2 L576.74,340.4 L569.94,340.4 Z" fill="#000"/>
<path d="M645.51,360.89 L648.91,368.09 L642.11,368.09 Z" fill="#000"/>
<path d="M425.69,369.32 L432.29,375.92 M425.69,375.92 L432.29,369.32" stroke="#000" stroke-width="1.3" fill="none"/>
<path d="M497.86,299.61 L504.46,306.21 M497.86,306.21 L504.46,299.61" stroke="#000" stroke-width="1.3" fill="none"/>
<path d="M570.04,276.57 L576.64,283.17 M570.04,283.17 L576.64,276.57" stroke="#000" stroke-width="1.3" fill="none"/>
<path d="M642.21,290.1 L648.81,296.7 M642.21,296.7 L648.81,290.1" stroke="#000" stroke-width="1.3" fill="none"/>
<path d="M425.69,369.32 L432.29,375.92 M425.69,375.92 L432.29,369.32 M428.99,368.82 L428.99,376.42" stroke="#000" stroke-width="1.3" fill="none"/>
<path d="M497.86,321.22 L504.46,327.82 M497.86,327.82 L504.46,321.22 M501.16,320.72 L501.16,328.32" stroke="#000" stroke-width="1.3" fill="none"/>
<path d="M570.04,287.51 L576.64,294.11 M570.04,294.11 L576.64,287.51 M573.34,287.01 L573.34,294.61" stroke="#000" stroke-width="1.3" fill="none"/>
<path d="M642.21,318.54 L648.81,325.14 M642.21,325.14 L648.81,318.54 M645.51,318.04 L645.51,325.64" stroke="#000" stroke-width="1.3" fill="none"/>
<circle cx="428.99" cy="372.62" r="3.7" fill="#000"/>
<circle cx="501.16" cy="359.8" r="3.7" fill="#000"/>
<circle cx="573.34" cy="327.65" r="3.7" fill="#000"/>
<circle cx="645.51" cy="370.7" r="3.7" fill="#000"/>
<rect x="392.9" y="249.5" width="32.6" height="23.3" fill="#fff" stroke="#3a3a3a" stroke-width="1.1"/>
<path d="M392.9,249.5 V272.8" stroke="#1a1a1a" stroke-width="1.6"/>
<text x="408.7" y="267.7" text-anchor="middle" font-size="11" font-weight="bold" font-family='"Liberation Sans", sans-serif'>D</text>
<text transform="translate(359.7,381.8) rotate(-90)" font-size="15" font-family='"Liberation Serif", serif'>NO<tspan font-size="9.6" dy="1.5">3</tspan><tspan font-size="9.6" dy="-6.5">&#8722;</tspan><tspan dy="5">-N (mg kg</tspan><tspan font-size="9.6" dy="-5">-1</tspan><tspan dy="5">)</tspan></text>
<text x="468.3" y="450.5" font-size="14.7" font-family='"Liberation Serif", serif'>Sampling interval (d)</text></g>
</svg>
</body></html>
